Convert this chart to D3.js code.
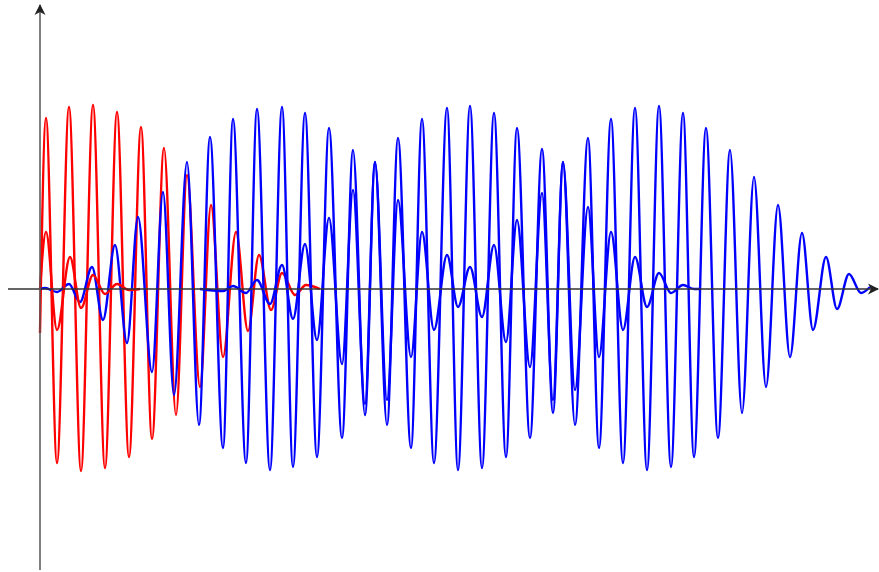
<!DOCTYPE html>
<html>
<head>
<meta charset="utf-8">
<script src="https://cdn.jsdelivr.net/npm/d3@7"></script>
<style>
  body { margin: 0; background: #fff; }
  svg { display: block; }
</style>
</head>
<body>
<svg width="879" height="572"></svg>
<script>
// extrema: [time, displacement]
var redMain = [
  [0, -0.44], [0.6, 1.71], [1.7, -1.74], [2.9, 1.82], [4.1, -1.82], [5.3, 1.84],
  [6.5, -1.79], [7.7, 1.77], [8.9, -1.68], [10.1, 1.62], [11.2, -1.50], [12.4, 1.41],
  [13.6, -1.26], [14.7, 1.14], [16.0, -0.98], [17.1, 0.84], [18.3, -0.68], [19.6, 0.57],
  [20.8, -0.42], [21.9, 0.34], [23.1, -0.21], [24.2, 0.16], [25.5, -0.06], [26.6, 0.04],
  [28.0, 0]
];

var redSmall = [
  [0, 0], [0.6, 0.57], [1.7, -0.41], [3.0, 0.32], [4.1, -0.19], [5.3, 0.14],
  [6.5, -0.05], [7.7, 0.05], [8.9, -0.01], [10.0, 0]
];

var blueMain = [
  [0, 0], [0.5, 0.01], [1.7, -0.03], [2.9, 0.05], [4.0, -0.13], [5.2, 0.22],
  [6.3, -0.31], [7.5, 0.44], [8.7, -0.54], [9.8, 0.72], [11.2, -0.83], [12.3, 0.97],
  [13.4, -1.06], [14.7, 1.27], [15.9, -1.36], [17.0, 1.52], [18.3, -1.59], [19.3, 1.70],
  [20.6, -1.74], [21.7, 1.80], [23.0, -1.81], [24.2, 1.82], [25.3, -1.78], [26.5, 1.76],
  [27.7, -1.68], [28.9, 1.61], [30.2, -1.49], [31.3, 1.39], [32.5, -1.26], [33.5, 1.27],
  [34.7, -1.36], [35.8, 1.51], [37.1, -1.59], [38.2, 1.70], [39.4, -1.74], [40.7, 1.81],
  [41.8, -1.81], [43.0, 1.83], [44.2, -1.79], [45.4, 1.76], [46.6, -1.68], [47.7, 1.61],
  [49.0, -1.49], [50.2, 1.40], [51.3, -1.24], [52.3, 1.27], [53.5, -1.36], [54.8, 1.51],
  [55.9, -1.59], [57.1, 1.70], [58.3, -1.74], [59.5, 1.81], [60.7, -1.81], [61.9, 1.83],
  [63.1, -1.78], [64.3, 1.76], [65.4, -1.68], [66.6, 1.61], [67.8, -1.49], [69.0, 1.39],
  [70.2, -1.24], [71.4, 1.12], [72.6, -0.98], [73.8, 0.84], [75.0, -0.68], [76.2, 0.56],
  [77.3, -0.41], [78.6, 0.32], [79.7, -0.20], [80.9, 0.15], [82.1, -0.04], [83.0, 0.02]
];

var blueSmall = [
  [16.0, 0], [18.3, -0.02], [19.3, 0.03], [20.6, -0.04], [21.7, 0.09], [23.0, -0.15],
  [24.2, 0.24], [25.3, -0.30], [26.5, 0.45], [27.7, -0.51], [28.9, 0.71], [30.2, -0.75],
  [31.3, 0.99], [32.5, -1.15], [33.5, 1.27], [34.7, -1.11], [35.8, 0.89], [37.1, -0.68],
  [38.2, 0.57], [39.4, -0.41], [40.7, 0.34], [41.8, -0.18], [43.0, 0.22], [44.2, -0.28],
  [45.4, 0.44], [46.6, -0.53], [47.7, 0.69], [49.0, -0.78], [50.2, 0.96], [51.3, -1.11],
  [52.3, 1.27], [53.5, -1.01], [54.8, 0.82], [55.9, -0.68], [57.1, 0.57], [58.3, -0.41],
  [59.5, 0.32], [60.7, -0.18], [61.9, 0.16], [63.1, -0.04], [64.3, 0.04], [65.4, 0],
  [66.0, 0]
];

var svg = d3.select("svg"),
    width = +svg.attr("width"),
    height = +svg.attr("height");

var x = d3.scaleLinear()
    .domain([0, 84])
    .range([40, 880]);

var y = d3.scaleLinear()
    .domain([-2.81, 2.81])
    .range([570, 8]);

var defs = svg.append("defs");
defs.append("marker")
    .attr("id", "arrow")
    .attr("viewBox", "0 -6 12 12")
    .attr("refX", 10)
    .attr("refY", 0)
    .attr("markerWidth", 12)
    .attr("markerHeight", 12)
    .attr("markerUnits", "userSpaceOnUse")
    .attr("orient", "auto")
  .append("path")
    .attr("d", "M0,-5.5L11,0L0,5.5L3,0Z")
    .attr("fill", "#222");

var line = d3.line()
    .x(function(d) { return x(d[0]); })
    .y(function(d) { return y(d[1]); })
    .curve(d3.curveMonotoneX);

var curves = [
  { data: redMain, color: "#ff0000" },
  { data: blueMain, color: "#0000ff" },
  { data: blueSmall, color: "#0000ff" },
  { data: redSmall, color: "#ff0000" }
];

svg.append("g")
    .attr("class", "curves")
  .selectAll("path")
  .data(curves)
  .enter().append("path")
    .attr("d", function(d) { return line(d.data); })
    .attr("fill", "none")
    .attr("stroke", function(d) { return d.color; })
    .attr("stroke-width", 2.4)
    .attr("stroke-linejoin", "round");

// axes
svg.append("line")
    .attr("x1", x(-3.2)).attr("y1", y(0))
    .attr("x2", x(83.8)).attr("y2", y(0))
    .attr("stroke", "#333")
    .attr("stroke-width", 1.5)
    .attr("marker-end", "url(#arrow)");

svg.append("line")
    .attr("x1", x(0)).attr("y1", y(-2.81))
    .attr("x2", x(0)).attr("y2", y(2.84))
    .attr("stroke", "#555")
    .attr("stroke-width", 1.5)
    .attr("marker-end", "url(#arrow)");
</script>
</body>
</html>
